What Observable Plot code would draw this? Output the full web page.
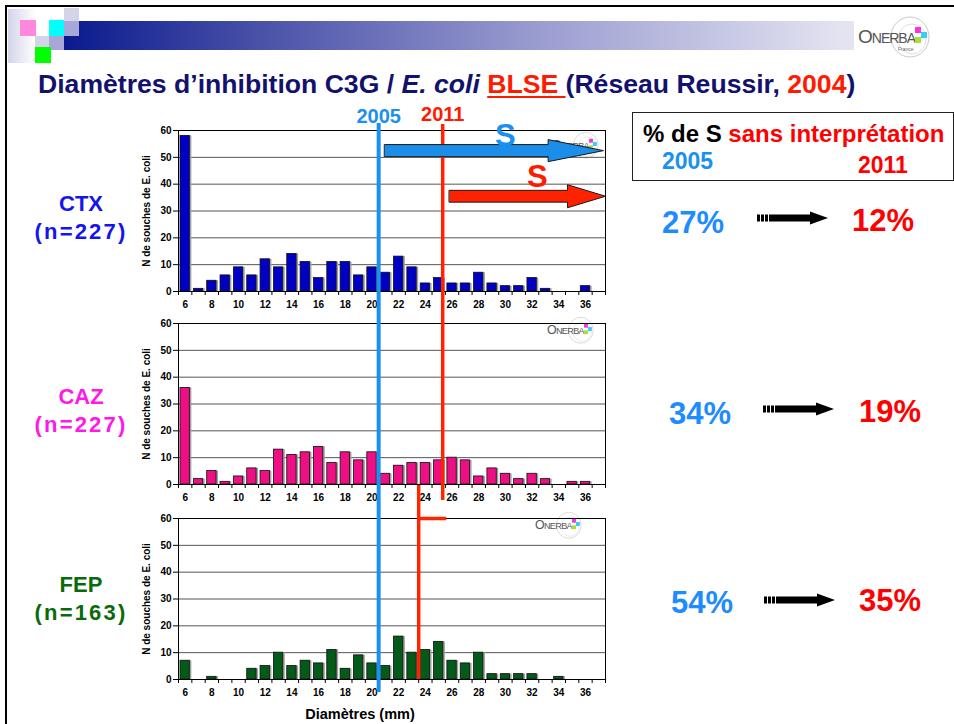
<!DOCTYPE html>
<html><head><meta charset="utf-8">
<script src="https://cdn.jsdelivr.net/npm/d3@7"></script>
<script src="https://cdn.jsdelivr.net/npm/@observablehq/plot@0.6"></script>
<style>
body{margin:0;background:#fff;}
#slide{position:relative;width:954px;height:724px;overflow:hidden;background:#fff;font-family:"Liberation Sans",Arial,sans-serif;}
.abs{position:absolute;white-space:nowrap;font-weight:bold;line-height:1;}
.panel{position:absolute;left:0;}
</style></head><body><div id="slide"></div>
<script>
// ---------------- data ----------------
const diameters = [6,7,8,9,10,11,12,13,14,15,16,17,18,19,20,21,22,23,24,25,26,27,28,29,30,31,32,33,34,35,36];
const ctxCounts = [58,1,4,6,9,6,12,9,14,11,5,11,11,6,9,7,13,9,3,5,3,3,7,3,2,2,5,1,0,0,2];
const cazCounts = [36,2,5,1,3,6,5,13,11,12,14,8,12,9,12,4,7,8,8,9,10,9,3,6,4,2,4,2,0,1,1];
const fepCounts = [7,0,1,0,0,4,5,10,5,7,6,11,4,9,6,5,16,10,11,14,7,6,10,2,2,2,2,0,1,0,0];
const xTickLabels = [6,8,10,12,14,16,18,20,22,24,26,28,30,32,34,36];
const yTickLabels = [0,10,20,30,40,50,60];
const antibiotics = ["CTX","CAZ","FEP"];
const strainCounts = [227,227,163];
const pctS2005 = [27,34,54];
const pctS2011 = [12,19,35];
const breakpoint2005 = 20.5;            // S >= 21 mm (2005)
const breakpoint2011Ceph = 25.3;        // CTX / CAZ line (2011)
const breakpoint2011Fep = 23.5;         // FEP line (2011)
const years = ["2005","2011"];
// block arrows "S" in the CTX panel: start, head start, tip, level
const sArrowStart = [20.95, 25.8];
const sArrowHead  = [33.2, 34.65];
const sArrowTip   = [37.35, 37.5];
const sArrowLevel = [52.5, 35.5];

// ---------------- styles / layout ----------------
const FONT = '"Liberation Sans", Arial, sans-serif';
const BLUE = "#1a90f0", RED = "#ff2400";
const barFills = ["#0000c4", "#ee0f84", "#045a18"];
const labelColors = ["#1414f0", "#ff18e8", "#0a6a0a"];
const plotTops = [130, 323, 518];
const PLOT_H = 161, MT = 40;
const unit = PLOT_H / 60;
const xTitleAt = 19.1;
const slide = document.getElementById("slide");

function abs(html, css) {
  const d = document.createElement("div");
  d.className = "abs";
  d.innerHTML = html;
  Object.assign(d.style, css);
  slide.appendChild(d);
  return d;
}

// ---------------- header decoration ----------------
function box(x, y, w, h, bg) {
  const d = document.createElement("div");
  Object.assign(d.style, {position: "absolute", left: x + "px", top: y + "px", width: w + "px", height: h + "px", background: bg});
  slide.appendChild(d);
}
box(8, 9, 28, 54, "linear-gradient(to right,#d4d4ea,#ffffff)");
box(64, 21, 790, 29, "linear-gradient(to right,#0a1a8e,#4a52a8 25%,#9a9cd0 60%,#e6e6f2)");
box(64, 8, 15, 13, "#d4d4e8");
box(64, 21, 15, 15, "#a8a8d8");
box(20, 20, 16, 16, "#ff88dd");
box(49, 20, 15, 16, "#00ffff");
box(35, 36, 15, 11, "#d4d4e8");
box(49, 36, 15, 14, "#a8a8d8");
box(35, 47, 16, 16, "#00ff00");
box(5, 5, 949, 2, "#000");
box(5, 5, 2, 719, "#000");

function logo(x, y, s, withFrance) {
  const d = document.createElement("div");
  Object.assign(d.style, {position: "absolute", left: x + "px", top: y + "px"});
  d.innerHTML = `<svg width="${70*s}" height="${44*s}" viewBox="0 0 70 44" style="overflow:visible">
    <ellipse cx="52" cy="22" rx="19" ry="20" fill="none" stroke="#c8c8c8" stroke-width="1"/>
    <ellipse cx="54" cy="24" rx="14" ry="15" fill="none" stroke="#d8d8d8" stroke-width="0.8"/>
    <text x="0" y="28" font-family='${FONT}' font-size="19" fill="#555" letter-spacing="-1">O<tspan font-size="14">NERBA</tspan></text>
    ${withFrance ? `<text x="40" y="36" font-family='${FONT}' font-size="5" fill="#666">France</text>` : ""}
    <rect x="57" y="12" width="6" height="6" fill="#ff33dd"/>
    <rect x="63" y="17" width="6" height="6" fill="#33ccff"/>
    <rect x="57" y="22" width="6" height="6" fill="#a6e22e"/>
  </svg>`;
  slide.appendChild(d);
}
logo(858, 15, 1, true);
logo(547, 316, 0.65, false);
logo(535, 511, 0.65, false);
logo(552, 131, 0.65, false);

// ---------------- title ----------------
abs(`<span style="color:#12126e">Diamètres d’inhibition C3G / <i>E. coli</i> </span><span style="color:#ff1a00;text-decoration:underline;text-decoration-thickness:2px;text-underline-offset:3px">BLSE </span><span style="color:#12126e">(Réseau Reussir, </span><span style="color:#ff1a00">2004</span><span style="color:#12126e">)</span>`,
  {left: "38px", top: "71px", fontSize: "26.6px"});

// ---------------- legend box ----------------
const lb = document.createElement("div");
Object.assign(lb.style, {position: "absolute", left: "632px", top: "112px", width: "322px", height: "69px", border: "1.5px solid #222", boxSizing: "border-box"});
slide.appendChild(lb);
abs(`<span style="color:#000">% de S </span><span style="color:#ff0000">sans interprétation</span>`, {left: "643px", top: "122px", fontSize: "24px"});
abs(years[0], {left: "662px", top: "150px", fontSize: "23px", color: BLUE});
abs(years[1], {left: "858px", top: "154px", fontSize: "23px", color: "#ff0000"});

// ---------------- panels ----------------
function panel(i, marginBottom, extra) {
  const counts = [ctxCounts, cazCounts, fepCounts][i];
  const data = diameters.map((d, k) => ({d, n: counts[k]})).filter(r => r.n > 0);
  const last = diameters[diameters.length - 1];
  const boundaries = [...diameters.map(d => d - 0.5), last + 0.5, last + 1.5];
  const chart = Plot.plot({
    width: 620, height: MT + PLOT_H + marginBottom,
    marginTop: MT, marginBottom, marginLeft: 178, marginRight: 15,
    x: {domain: [diameters[0] - 0.5, last + 1.5]},
    y: {domain: [0, 60]},
    style: {background: "transparent", overflow: "visible", fontFamily: FONT, fontWeight: "bold", color: "#000"},
    marks: [
      Plot.gridY(yTickLabels, {stroke: "#555", strokeOpacity: 1}),
      Plot.rectY(data, {x1: r => r.d - 0.5, x2: r => r.d + 0.5, y: "n", insetLeft: 2, insetRight: 2, fill: "#a0a0a0", dx: 2}),
      Plot.rectY(data, {x1: r => r.d - 0.5, x2: r => r.d + 0.5, y: "n", insetLeft: 2, insetRight: 2, fill: barFills[i], stroke: "#111", strokeWidth: 0.8}),
      Plot.frame({stroke: "#000"}),
      Plot.axisY(yTickLabels, {tickSize: 5, tickPadding: 2, fontSize: 10, label: null}),
      Plot.axisX(boundaries, {tickSize: 4, tickFormat: () => "", label: null}),
      Plot.axisX(xTickLabels, {tickSize: 0, tickPadding: 9, fontSize: 10, label: null}),
      Plot.text(["N de souches de E. coli"], {x: diameters[0] - 0.5, y: 30, rotate: -90, dx: -32, fontSize: 10, textAnchor: "middle"}),
      ...extra
    ]
  });
  chart.classList.add("panel");
  chart.style.top = (plotTops[i] - MT) + "px";
  slide.appendChild(chart);
}

function blockArrow(k, color, shaftHalf, headHalf) {
  const y = sArrowLevel[k];
  const pts = [
    [sArrowStart[k], y - shaftHalf], [sArrowHead[k], y - shaftHalf], [sArrowHead[k], y - headHalf],
    [sArrowTip[k], y], [sArrowHead[k], y + headHalf], [sArrowHead[k], y + shaftHalf], [sArrowStart[k], y + shaftHalf]
  ];
  return Plot.line(pts, {x: p => p[0], y: p => p[1], curve: "linear-closed", fill: color, stroke: "#1a1a1a", strokeWidth: 1});
}

const gap1 = plotTops[1] - (plotTops[0] + PLOT_H);
const gap2 = plotTops[2] - (plotTops[1] + PLOT_H);

panel(0, 36, [
  Plot.ruleX([breakpoint2005], {y1: -gap1 / unit, y2: 60 + 7 / unit, stroke: BLUE, strokeWidth: 4}),
  Plot.ruleX([breakpoint2011Ceph], {y1: -gap1 / unit, y2: 60 + 6 / unit, stroke: RED, strokeWidth: 3.5}),
  blockArrow(0, "#1a8ee8", 2.25, 4.1),
  blockArrow(1, "#ff2200", 2.2, 4.3),
  Plot.text(["S"], {x: 30.0, y: 58.0, fontSize: 31, fill: BLUE}),
  Plot.text(["S"], {x: 32.4, y: 42.6, fontSize: 31, fill: "#ff1a00"}),
  Plot.text([years[0]], {x: breakpoint2005, y: 60 + 8 / unit, lineAnchor: "bottom", fontSize: 20, fill: BLUE}),
  Plot.text([years[1]], {x: breakpoint2011Ceph, y: 60 + 10 / unit, lineAnchor: "bottom", fontSize: 20, fill: "#ff1a00"})
]);
panel(1, 36, [
  Plot.ruleX([breakpoint2005], {y1: -gap2 / unit, y2: 60, stroke: BLUE, strokeWidth: 4}),
  Plot.ruleX([breakpoint2011Ceph], {y1: -16 / unit, y2: 60, stroke: RED, strokeWidth: 3.5}),
  Plot.ruleX([breakpoint2011Fep], {y1: -gap2 / unit, y2: -1 / unit, stroke: RED, strokeWidth: 3.5})
]);
panel(2, 45, [
  Plot.ruleX([breakpoint2005], {y1: -13 / unit, y2: 60, stroke: BLUE, strokeWidth: 4}),
  Plot.ruleX([breakpoint2011Fep], {y1: 0, y2: 60, stroke: RED, strokeWidth: 3.5}),
  Plot.ruleY([60], {x1: breakpoint2011Fep, x2: breakpoint2011Ceph + 0.3, stroke: RED, strokeWidth: 3.5}),
  Plot.text(["Diamètres (mm)"], {x: xTitleAt, y: 0, dy: 35, fontSize: 14.5})
]);

// ---------------- row labels and percentages ----------------
const rowLabelTops = [193, 386, 574];
const pctTops = [207, 398, 587];
const arrowX = [757, 763, 764];
const arrowY = [218, 409, 600];
antibiotics.forEach((ab, i) => {
  abs(`<div style="text-align:center">${ab}</div><div style="text-align:center;margin-top:6px;letter-spacing:2.2px">(n=${strainCounts[i]})</div>`,
    {left: "30px", width: "102px", top: rowLabelTops[i] + "px", fontSize: "22px", color: labelColors[i]});
  abs(pctS2005[i] + "%", {left: (i === 0 ? 662 : i === 1 ? 669 : 671) + "px", top: pctTops[i] + "px", fontSize: "31px", color: "#1e8cff"});
  abs(pctS2011[i] + "%", {left: (i === 0 ? 852 : 859) + "px", top: (pctTops[i] - 2) + "px", fontSize: "31px", color: "#ff0000"});
  const a = document.createElement("div");
  Object.assign(a.style, {position: "absolute", left: arrowX[i] + "px", top: (arrowY[i] - 7) + "px"});
  a.innerHTML = `<svg width="72" height="14"><rect x="0" y="3.5" width="3" height="7" fill="#000"/><rect x="4" y="3.5" width="3" height="7" fill="#000"/><rect x="8" y="3.5" width="3" height="7" fill="#000"/><rect x="12" y="3.5" width="42" height="7" fill="#000"/><polygon points="53,0.5 71,7 53,13.5" fill="#000"/></svg>`;
  slide.appendChild(a);
});
</script></body></html>
